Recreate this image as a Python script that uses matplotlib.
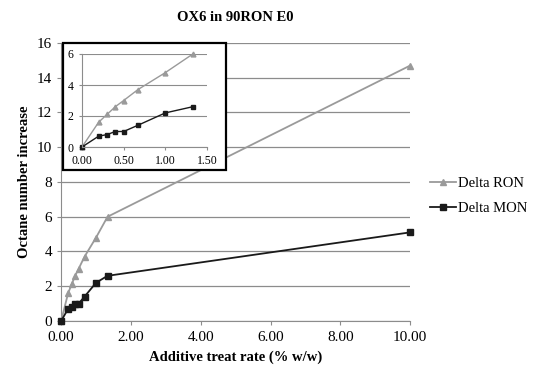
import matplotlib
matplotlib.use("Agg")
import matplotlib.pyplot as plt
from matplotlib.patches import Rectangle

plt.rcParams['font.family'] = ['Liberation Serif', 'DejaVu Serif']

x = [0.0, 0.2, 0.3, 0.4, 0.5, 0.67, 1.0, 1.33, 10.0]
ron = [0.0, 1.6, 2.1, 2.6, 3.0, 3.7, 4.8, 6.0, 14.7]
mon = [0.0, 0.7, 0.8, 1.0, 1.0, 1.4, 2.2, 2.6, 5.1]
x_in = x[:8]
ron_in = ron[:8]
mon_in = mon[:8]
xticks_main = [0, 2, 4, 6, 8, 10]
yticks_main = [0, 2, 4, 6, 8, 10, 12, 14, 16]
xticks_in = [0, 0.5, 1.0, 1.5]
yticks_in = [0, 2, 4, 6]

RON_C = '#9a9a9a'
MON_C = '#1a1a1a'
GRID_C = '#8c8c8c'

fig = plt.figure(figsize=(5.41, 3.66), dpi=100)
ax = fig.add_axes([0.113, 0.123, 0.645, 0.7595])
ax.plot(x, ron, color=RON_C, marker='^', markersize=5, lw=1.3, label='Delta RON', clip_on=False, zorder=3)
ax.plot(x, mon, color=MON_C, marker='s', markersize=5, lw=1.3, label='Delta MON', clip_on=False, zorder=3)
ax.set_xlim(0, 10)
ax.set_ylim(0, 16)
ax.set_xticks(xticks_main)
ax.set_xticklabels([f'{v:.2f}' for v in xticks_main])
ax.set_yticks(yticks_main)
ax.tick_params(labelsize=11, length=3, color=GRID_C)
ax.tick_params(axis='x', pad=4)
ax.yaxis.grid(True, color=GRID_C, lw=0.9)
for s in ['top', 'right']:
    ax.spines[s].set_visible(False)
ax.spines['left'].set_color(GRID_C)
ax.spines['bottom'].set_color(GRID_C)
ax.set_xlabel('Additive treat rate (% w/w)', fontsize=10.5, fontweight='bold', labelpad=5)
ax.set_ylabel('Octane number increase', fontsize=10.5, fontweight='bold', labelpad=4)
ax.set_title('OX6 in 90RON E0', fontsize=10.5, fontweight='bold', pad=16)
ax.legend(loc='center left', bbox_to_anchor=(1.02, 0.45), frameon=False, fontsize=10.5,
          handlelength=1.8, handletextpad=0.1, labelspacing=0.8, markerscale=0.8)

# inset frame
fig.patches.append(Rectangle((63/541, 1-170/366), (226-63)/541, (170-43)/366,
                             transform=fig.transFigure, facecolor='white',
                             edgecolor='black', lw=1.6, zorder=2))
axi = fig.add_axes([82/541, 1-147/366, 125/541, 93/366], zorder=3)
axi.patch.set_alpha(0)
axi.plot(x_in, ron_in, color=RON_C, marker='^', markersize=3.5, lw=1.0, clip_on=False)
axi.plot(x_in, mon_in, color=MON_C, marker='s', markersize=3.5, lw=1.0, clip_on=False)
axi.set_xlim(0, 1.5)
axi.set_ylim(0, 6)
axi.set_xticks(xticks_in)
axi.set_xticklabels([f'{v:.2f}' for v in xticks_in])
axi.set_yticks(yticks_in)
axi.tick_params(labelsize=8.5, length=2.5, color=GRID_C)
axi.yaxis.grid(True, color=GRID_C, lw=0.8)
for s in ['top', 'right']:
    axi.spines[s].set_visible(False)
axi.spines['left'].set_color(GRID_C)
axi.spines['bottom'].set_color(GRID_C)

fig.savefig('out.png', dpi=100)
